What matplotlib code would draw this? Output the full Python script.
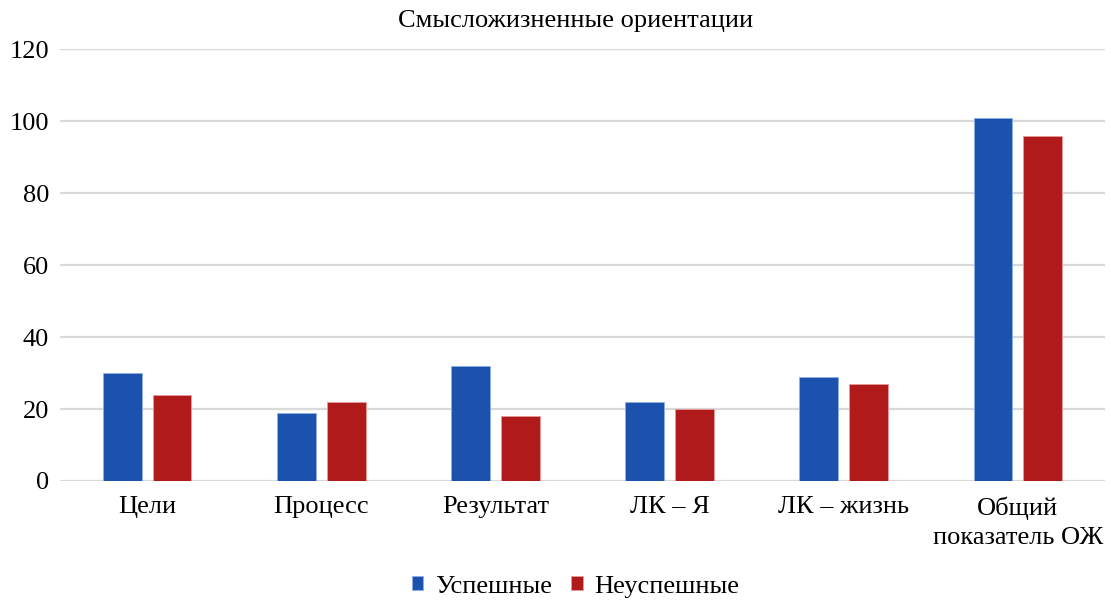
import matplotlib.pyplot as plt
import numpy as np

plt.rcParams['font.family'] = ['Liberation Serif', 'DejaVu Serif']

categories = ["Цели", "Процесс", "Результат", "ЛК – Я", "ЛК – жизнь", "Общий\nпоказатель ОЖ"]
successful = [30, 19, 32, 22, 29, 101]
unsuccessful = [24, 22, 18, 20, 27, 96]
series_names = ["Успешные", "Неуспешные"]
yticks = [0, 20, 40, 60, 80, 100, 120]

blue = "#1a52ae"
red = "#b11a1a"

fig = plt.figure(figsize=(11.11, 6.01), dpi=100)
ax = fig.add_axes([0.054, 0.1997, 0.9406, 0.7183])

x = np.arange(len(categories))
w = 0.223
off = 0.143
ax.bar(x - off, successful, w, color=blue, edgecolor="#8fb0e6", linewidth=0.6, label=series_names[0], zorder=3)
ax.bar(x + off, unsuccessful, w, color=red, edgecolor="#e69a9a", linewidth=0.6, label=series_names[1], zorder=3)

ax.set_xlim(-0.5, len(categories) - 0.5)
ax.set_ylim(0, 120)
ax.set_yticks(yticks)
ax.set_xticks(x)
ax.set_xticklabels(categories, fontsize=19, linespacing=1.45)
ax.tick_params(axis="y", labelsize=19, length=0, pad=8)
ax.tick_params(axis="x", length=0, pad=11)
ax.grid(axis="y", color="#d9d9d9", linewidth=1.6, zorder=0)
for s in ax.spines.values():
    s.set_visible(False)

fig.text(0.518, 0.965, "Смысложизненные ориентации", ha="center", va="center", fontsize=19)
fig.legend(loc="center", bbox_to_anchor=(0.518, 0.024), ncol=2, frameon=False,
           fontsize=19, handlelength=0.45, handleheight=0.45, handletextpad=0.45, columnspacing=0.7)

fig.savefig("out.png", dpi=100)
